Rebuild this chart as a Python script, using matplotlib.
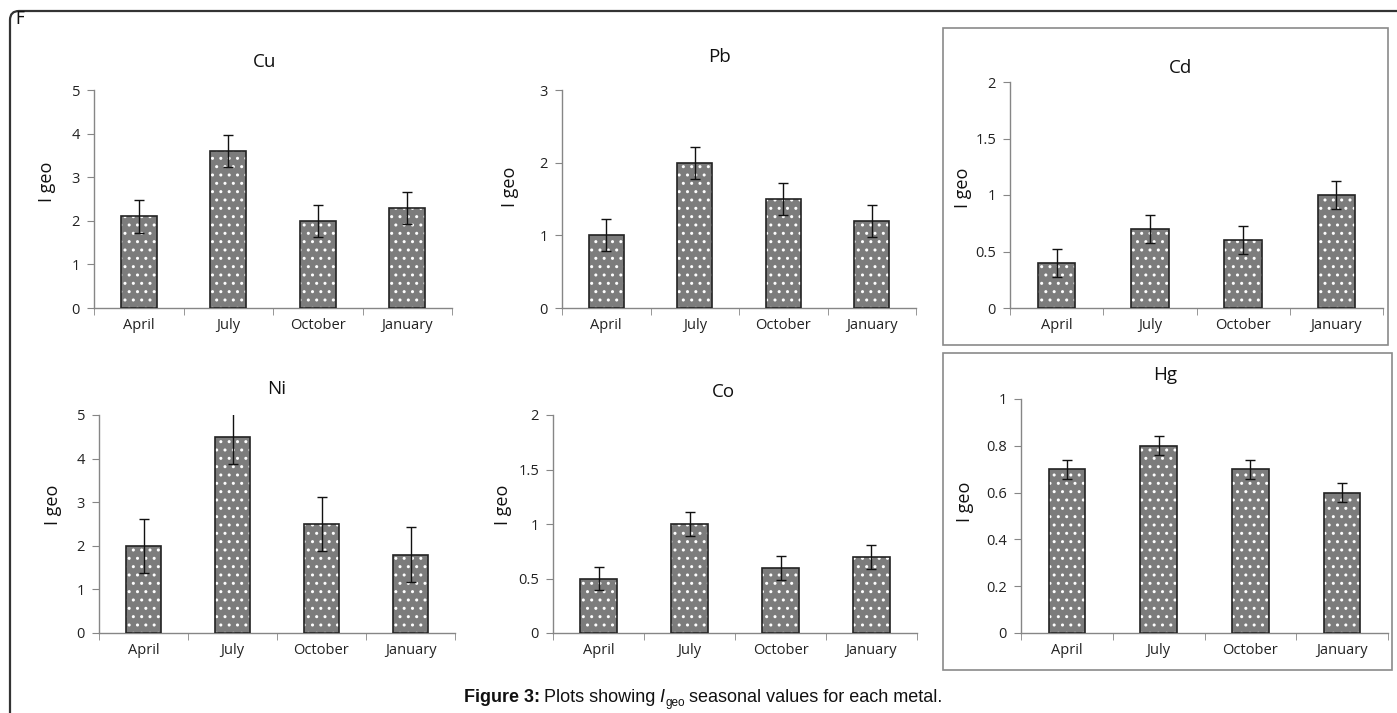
import matplotlib
matplotlib.use("Agg")
import matplotlib.pyplot as plt
from matplotlib.patches import Rectangle
from matplotlib.path import Path
from matplotlib.patches import PathPatch

months = ["April", "July", "October", "January"]

cu_vals = [2.1, 3.6, 2.0, 2.3]
cu_err = [0.37, 0.37, 0.37, 0.37]
pb_vals = [1.0, 2.0, 1.5, 1.2]
pb_err = [0.22, 0.22, 0.22, 0.22]
cd_vals = [0.4, 0.7, 0.6, 1.0]
cd_err = [0.125, 0.125, 0.125, 0.125]
ni_vals = [2.0, 4.5, 2.5, 1.8]
ni_err = [0.62, 0.62, 0.62, 0.62]
co_vals = [0.5, 1.0, 0.6, 0.7]
co_err = [0.11, 0.11, 0.11, 0.11]
hg_vals = [0.7, 0.8, 0.7, 0.6]
hg_err = [0.04, 0.04, 0.04, 0.04]

plt.rcParams['font.family'] = ['Open Sans', 'DejaVu Sans']

W, H = 1397, 713
fig = plt.figure(figsize=(W / 100, H / 100), dpi=100)

AX_COL = '#868686'

def px_rect(x0, x1, ytop, ybot):
    return [x0 / W, 1 - ybot / H, (x1 - x0) / W, (ybot - ytop) / H]

panels = [
    ("Cu", cu_vals, cu_err, 5, [0, 1, 2, 3, 4, 5], (94, 452, 90, 308), (265, 62), (47, 182)),
    ("Pb", pb_vals, pb_err, 3, [0, 1, 2, 3], (562, 916, 90, 308), (720, 57), (510, 187)),
    ("Cd", cd_vals, cd_err, 2, [0, 0.5, 1, 1.5, 2], (1010, 1383, 82, 308), (1180, 68), (963, 188)),
    ("Ni", ni_vals, ni_err, 5, [0, 1, 2, 3, 4, 5], (99, 455, 415, 633), (277, 389), (53, 505)),
    ("Co", co_vals, co_err, 2, [0, 0.5, 1, 1.5, 2], (553, 917, 415, 633), (723, 392), (503, 505)),
    ("Hg", hg_vals, hg_err, 1, [0, 0.2, 0.4, 0.6, 0.8, 1], (1021, 1388, 399, 633), (1165, 375), (965, 502)),
]

def fmt(v):
    if float(v).is_integer():
        return str(int(v))
    return ("%g" % v)

for name, vals, err, ymax, yticks, rect, tpos, lpos in panels:
    ax = fig.add_axes(px_rect(*rect))
    x = list(range(len(months)))
    ax.bar(x, vals, width=0.4, color='#7c7c7c', edgecolor='white', hatch='..',
           linewidth=0, zorder=2)
    ax.bar(x, vals, width=0.4, fill=False, edgecolor='#222222', linewidth=1.2, zorder=3)
    ax.errorbar(x, vals, yerr=err, fmt='none', ecolor='#111111', elinewidth=1.0,
                capsize=3.5, capthick=1.0, zorder=4)
    ax.set_xlim(-0.5, 3.5)
    ax.set_ylim(0, ymax)
    ax.set_yticks(yticks)
    ax.set_yticklabels([fmt(v) for v in yticks], fontsize=10.5, color='#222222')
    ax.set_xticks(x)
    ax.set_xticklabels(months, fontsize=10.5, color='#222222')
    ax.tick_params(axis='x', length=0, pad=7)
    ax.set_xticks([-0.5, 0.5, 1.5, 2.5, 3.5], minor=True)
    ax.tick_params(axis='x', which='minor', length=5, color=AX_COL, direction='out')
    ax.tick_params(axis='y', length=5, color=AX_COL, direction='out', pad=5)
    for s in ['top', 'right']:
        ax.spines[s].set_visible(False)
    for s in ['left', 'bottom']:
        ax.spines[s].set_color(AX_COL)
        ax.spines[s].set_linewidth(1.0)
    ax.patch.set_alpha(0)
    fig.text(tpos[0] / W, 1 - tpos[1] / H, name, ha='center', va='center',
             fontsize=13.5, color='#111111')
    fig.text(lpos[0] / W, 1 - lpos[1] / H, "I geo", ha='center', va='center',
             rotation=90, fontsize=13, color='#111111')

# boxes around Cd and Hg
for (x0, y0, x1, y1) in [(943, 28, 1388, 345), (943, 353, 1392, 670)]:
    fig.patches.append(Rectangle((x0 / W, 1 - y1 / H), (x1 - x0) / W, (y1 - y0) / H,
                                 transform=fig.transFigure, fill=False,
                                 edgecolor='#8a8a8a', linewidth=1.2))

# outer frame with rounded top-left corner
verts = [(10 / W, 1 - 713 / H), (10 / W, 1 - 20 / H), (10 / W, 1 - 11 / H),
         (19 / W, 1 - 11 / H), (1397 / W, 1 - 11 / H)]
codes = [Path.MOVETO, Path.LINETO, Path.CURVE3, Path.CURVE3, Path.LINETO]
fig.patches.append(PathPatch(Path(verts, codes), transform=fig.transFigure,
                             fill=False, edgecolor='#333333', linewidth=1.6))

fig.text(15 / W, 1 - 19 / H, "F", ha='left', va='center', fontsize=12,
         family='DejaVu Sans', color='#111111')

# caption built from pieces sharing one baseline
base_px = 702
pieces = [
    ("Figure 3:", dict(weight='bold'), 13, 0, 4),
    ("Plots showing", dict(), 13, 0, 4),
    ("I", dict(style='italic'), 13, 0, 1),
    ("geo", dict(), 8.5, -4, 4),
    ("seasonal values for each metal.", dict(), 13, 0, 0),
]
r = fig.canvas.get_renderer()
objs = []
total = 0
for txt, kw, fs, dy, gap in pieces:
    t = fig.text(0, 1 - (base_px - dy) / H, txt, ha='left', va='baseline', fontsize=fs,
                 family='Liberation Sans', color='#111111', **kw)
    w = t.get_window_extent(r).width
    objs.append((t, w, gap))
    total += w + gap
xcur = 703 - total / 2
for t, w, gap in objs:
    t.set_x(xcur / W)
    xcur += w + gap

fig.savefig("out.png", dpi=100)
